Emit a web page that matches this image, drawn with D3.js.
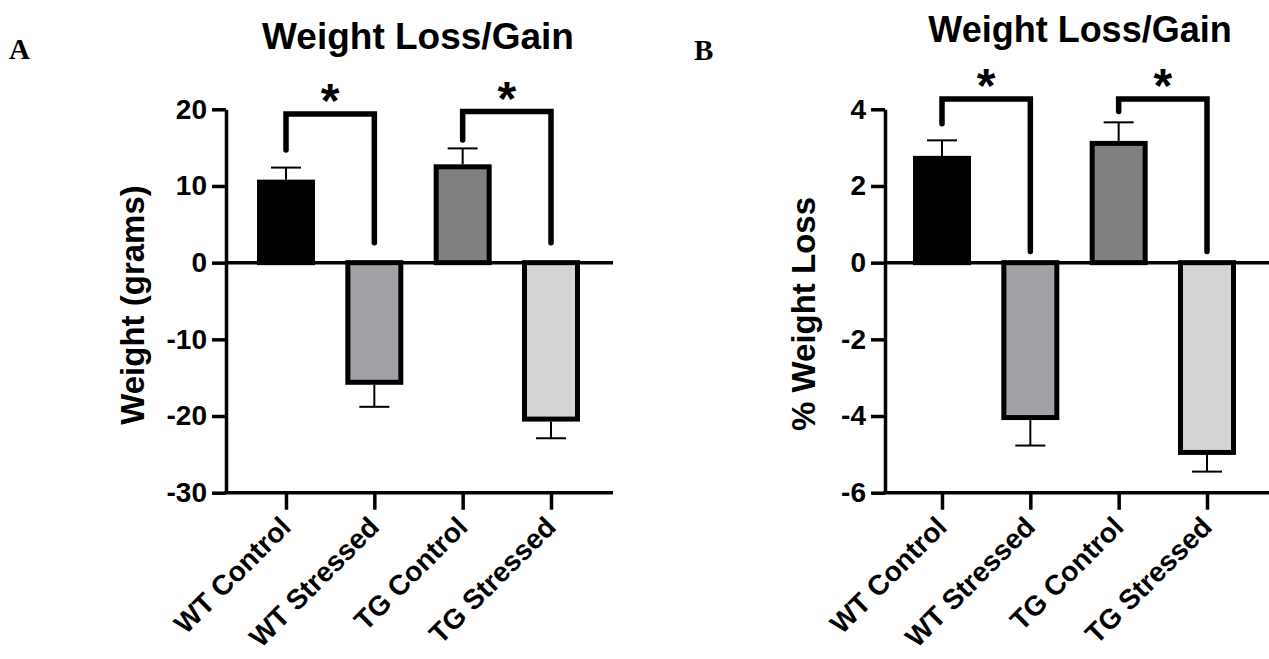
<!DOCTYPE html>
<html>
<head>
<meta charset="utf-8">
<script src="https://cdn.jsdelivr.net/npm/d3@7"></script>
<style>
  body { margin: 0; background: #fff; }
  svg { display: block; }
</style>
</head>
<body>
<div id="chart"></div>
<script>
const categories = ['WT Control', 'WT Stressed', 'TG Control', 'TG Stressed'];
const barColors = ['#000000', '#a1a1a5', '#808080', '#d4d4d4'];

// panel A: weight change in grams
const gramsMean = [10.5, -15.6, 12.5, -20.4];
const gramsSem = [1.9, 3.2, 2.4, 2.5];
const gramsTicks = [-30, -20, -10, 0, 10, 20];
// [left bar, right bar, bracket top, left leg end, right leg end]
const gramsBrackets = [[0, 1, 19.4, 14.7, 2.6], [2, 3, 19.7, 16.0, 2.6]];

// panel B: % weight loss
const pctMean = [2.72, -4.04, 3.11, -4.95];
const pctSem = [0.47, 0.73, 0.55, 0.5];
const pctTicks = [-6, -4, -2, 0, 2, 4];
const pctBrackets = [[0, 1, 4.27, 3.62, 0.29], [2, 3, 4.27, 3.94, 0.29]];

const W = 1269, H = 659;
const SANS = '"Liberation Sans", Arial, Helvetica, sans-serif';
const SERIF = '"Liberation Serif", "Times New Roman", serif';

const svg = d3.select('#chart').append('svg')
  .attr('width', W)
  .attr('height', H);

function drawPanel(cfg) {
  const g = svg.append('g');

  const y = d3.scaleLinear()
    .domain(d3.extent(cfg.ticks))
    .range([492.7, 109.3]);

  const x = d3.scalePoint()
    .domain(categories)
    .range([cfg.xFirst, cfg.xLast]);

  const barW = 53;
  const rows = categories.map((c, i) => ({ c, mean: cfg.mean[i], sem: cfg.sem[i], color: barColors[i] }));

  // bars
  g.append('g').selectAll('rect')
    .data(rows)
    .join('rect')
    .attr('x', d => x(d.c) - barW / 2)
    .attr('y', d => Math.min(y(0), y(d.mean)))
    .attr('width', barW)
    .attr('height', d => Math.abs(y(d.mean) - y(0)))
    .attr('fill', d => d.color)
    .attr('stroke', '#000')
    .attr('stroke-width', 5);

  // error bars, one-sided away from zero
  const err = g.append('g')
    .attr('stroke', '#000')
    .attr('stroke-width', 2);
  const tip = d => d.mean + Math.sign(d.mean) * d.sem;
  err.selectAll('line.stem')
    .data(rows)
    .join('line')
    .attr('class', 'stem')
    .attr('x1', d => x(d.c))
    .attr('x2', d => x(d.c))
    .attr('y1', d => y(d.mean) - Math.sign(d.mean) * 2.5)
    .attr('y2', d => y(tip(d)));
  err.selectAll('line.cap')
    .data(rows)
    .join('line')
    .attr('class', 'cap')
    .attr('x1', d => x(d.c) - 15)
    .attr('x2', d => x(d.c) + 15)
    .attr('y1', d => y(tip(d)))
    .attr('y2', d => y(tip(d)));

  // zero line
  g.append('line')
    .attr('x1', cfg.axisX)
    .attr('x2', cfg.xEnd)
    .attr('y1', y(0))
    .attr('y2', y(0))
    .attr('stroke', '#000')
    .attr('stroke-width', 3.5);

  // y axis (plain hyphen minus like the original)
  const yAxis = g.append('g')
    .attr('transform', `translate(${cfg.axisX},0)`)
    .call(d3.axisLeft(y)
      .tickValues(cfg.ticks)
      .tickFormat(d => String(d))
      .tickSize(14)
      .tickPadding(5)
      .tickSizeOuter(0));
  yAxis.select('.domain').attr('stroke-width', 3.5);
  yAxis.selectAll('.tick line').attr('stroke-width', 3.5);
  yAxis.selectAll('.tick text')
    .attr('font-family', SANS)
    .attr('font-weight', 'bold')
    .attr('font-size', 28)
    .attr('fill', '#000');

  // x axis
  const xAxis = g.append('g')
    .attr('transform', `translate(0,${y.range()[0]})`)
    .call(d3.axisBottom(x).tickSize(17).tickSizeOuter(0));
  xAxis.select('.domain').remove();
  xAxis.append('line')
    .attr('x1', cfg.axisX - 1.75)
    .attr('x2', cfg.xEnd)
    .attr('stroke', '#000')
    .attr('stroke-width', 3.5);
  xAxis.selectAll('.tick line').attr('stroke-width', 3.5);
  xAxis.selectAll('.tick text')
    .attr('font-family', SANS)
    .attr('font-weight', 'bold')
    .attr('font-size', 28)
    .attr('fill', '#000')
    .attr('text-anchor', 'end')
    .attr('x', 0)
    .attr('y', 0)
    .attr('dy', null)
    .attr('transform', 'translate(6,36) rotate(-45)');

  // significance brackets
  const br = g.append('g')
    .attr('fill', 'none')
    .attr('stroke', '#000')
    .attr('stroke-width', 5.5)
    .attr('stroke-linecap', 'round')
    .attr('stroke-linejoin', 'miter');
  br.selectAll('path')
    .data(cfg.brackets)
    .join('path')
    .attr('d', d => {
      const x0 = x(categories[d[0]]), x1 = x(categories[d[1]]);
      return `M${x0},${y(d[3])}V${y(d[2])}H${x1}V${y(d[4])}`;
    });
  g.append('g').selectAll('text')
    .data(cfg.brackets)
    .join('text')
    .attr('x', d => (x(categories[d[0]]) + x(categories[d[1]])) / 2)
    .attr('y', d => y(d[2]) + 3)
    .attr('text-anchor', 'middle')
    .attr('font-family', SANS)
    .attr('font-weight', 'bold')
    .attr('font-size', 48)
    .text('*');

  // y label
  g.append('text')
    .attr('transform', `translate(${cfg.ylabel[0]},${cfg.ylabel[1]}) rotate(-90)`)
    .attr('text-anchor', 'middle')
    .attr('font-family', SANS)
    .attr('font-weight', 'bold')
    .attr('font-size', 33)
    .text(cfg.yTitle);

  // title
  g.append('text')
    .attr('x', cfg.title[0])
    .attr('y', cfg.title[1])
    .attr('text-anchor', 'middle')
    .attr('font-family', SANS)
    .attr('font-weight', 'bold')
    .attr('font-size', cfg.title[2])
    .text('Weight Loss/Gain');

  // panel letter
  g.append('text')
    .attr('x', cfg.letter[0])
    .attr('y', cfg.letter[1])
    .attr('font-family', SERIF)
    .attr('font-weight', 'bold')
    .attr('font-size', 29)
    .text(cfg.letterText);
}

drawPanel({
  mean: gramsMean, sem: gramsSem, ticks: gramsTicks, brackets: gramsBrackets,
  axisX: 226, xFirst: 286, xLast: 551, xEnd: 613,
  yTitle: 'Weight (grams)', ylabel: [144, 305],
  title: [418, 49, 37], letter: [9, 59], letterText: 'A'
});

drawPanel({
  mean: pctMean, sem: pctSem, ticks: pctTicks, brackets: pctBrackets,
  axisX: 885, xFirst: 942, xLast: 1207, xEnd: 1269,
  yTitle: '% Weight Loss', ylabel: [815, 314],
  title: [1080, 42, 36], letter: [694, 60], letterText: 'B'
});
</script>
</body>
</html>
